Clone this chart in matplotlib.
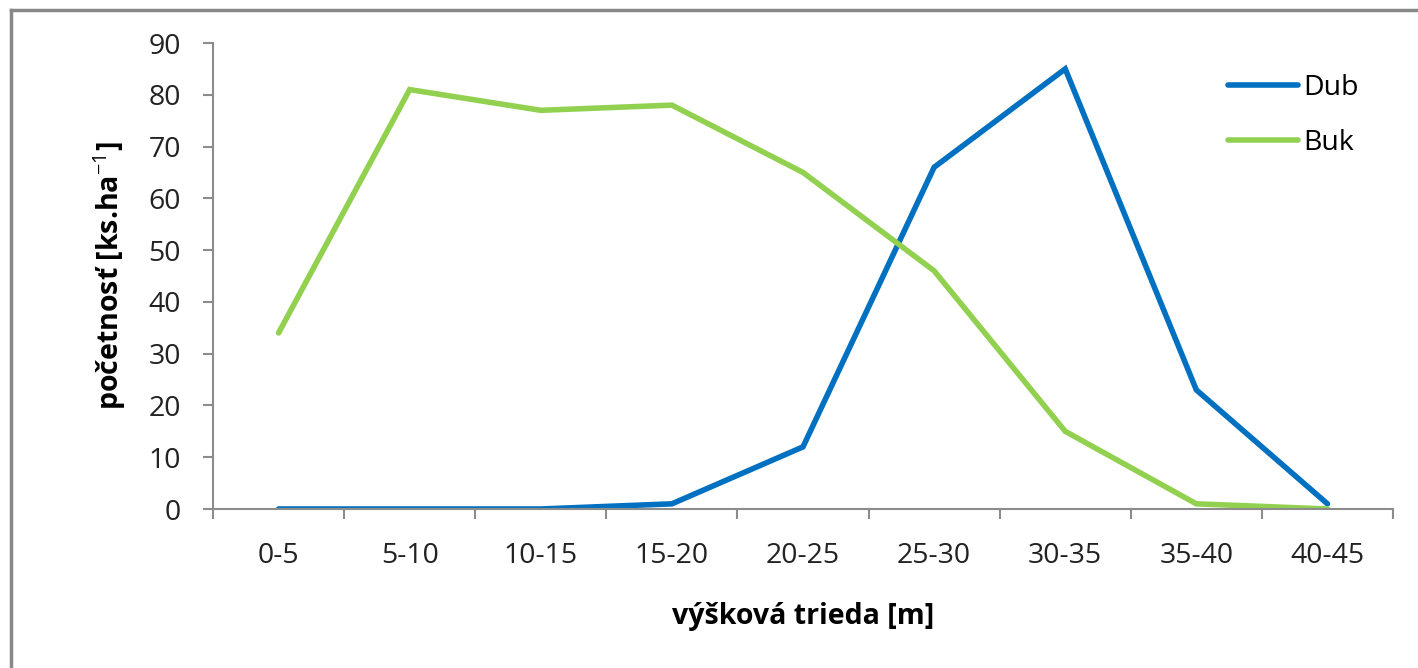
import matplotlib.pyplot as plt
from matplotlib.lines import Line2D
import numpy as np

plt.rcParams['font.family'] = ['Open Sans', 'DejaVu Sans']
plt.rcParams['mathtext.fontset'] = 'custom'
plt.rcParams['mathtext.rm'] = 'Open Sans'
plt.rcParams['mathtext.bf'] = 'Open Sans:bold'

triedy = ['0-5', '5-10', '10-15', '15-20', '20-25', '25-30', '30-35', '35-40', '40-45']
dub = [0, 0, 0, 1, 12, 66, 85, 23, 1]
buk = [34, 81, 77, 78, 65, 46, 15, 1, 0]

W, H = 1418, 668
fig = plt.figure(figsize=(W / 100, H / 100), dpi=100)
ax = fig.add_axes([213 / W, (H - 509) / H, (1393 - 213) / W, (509 - 43) / H])

x = np.arange(len(triedy))
ax.plot(x, dub, color='#0070C0', lw=4, solid_joinstyle='miter', solid_capstyle='round', label='Dub')
ax.plot(x, buk, color='#92D050', lw=4, solid_joinstyle='miter', solid_capstyle='round', label='Buk')

ax.set_xlim(-0.5, len(triedy) - 0.5)
ax.set_ylim(0, 90)
ax.set_yticks(range(0, 91, 10))
ax.set_xticks(x)
ax.set_xticklabels(triedy)
ax.set_xticks(np.arange(-0.5, len(triedy), 1), minor=True)

grey = '#8c8c8c'
for s in ['top', 'right']:
    ax.spines[s].set_visible(False)
for s in ['left', 'bottom']:
    ax.spines[s].set_color(grey)
    ax.spines[s].set_linewidth(1.5)

ax.tick_params(axis='x', which='major', length=0, pad=24, labelsize=20.5, colors='#222222')
ax.tick_params(axis='x', which='minor', length=7, width=1.5, color=grey, direction='out')
ax.tick_params(axis='y', length=7, width=1.5, color=grey, pad=16, labelsize=20.5, labelcolor='#222222')

ax.set_ylabel('početnosť [ks.ha$^{-1}$]', fontsize=20.5, fontweight='bold', labelpad=15)
ax.set_xlabel('výšková trieda [m]', fontsize=20.5, fontweight='bold', labelpad=23)

ax.legend(loc='upper left', bbox_to_anchor=(1228 / W, 1 - 74 / H), bbox_transform=fig.transFigure,
          frameon=False, fontsize=20.5, borderpad=0, borderaxespad=0,
          handlelength=2.45, handletextpad=0.2, labelspacing=0.95)

# outer frame around the chart area
fig.add_artist(Line2D([10.5 / W, 10.5 / W], [0, 1 - 9.5 / H], color='#888888', lw=2.5,
                      transform=fig.transFigure))
fig.add_artist(Line2D([10.5 / W, 1], [1 - 9.5 / H, 1 - 9.5 / H], color='#888888', lw=2.5,
                      transform=fig.transFigure))

fig.savefig('out.png', dpi=100)
